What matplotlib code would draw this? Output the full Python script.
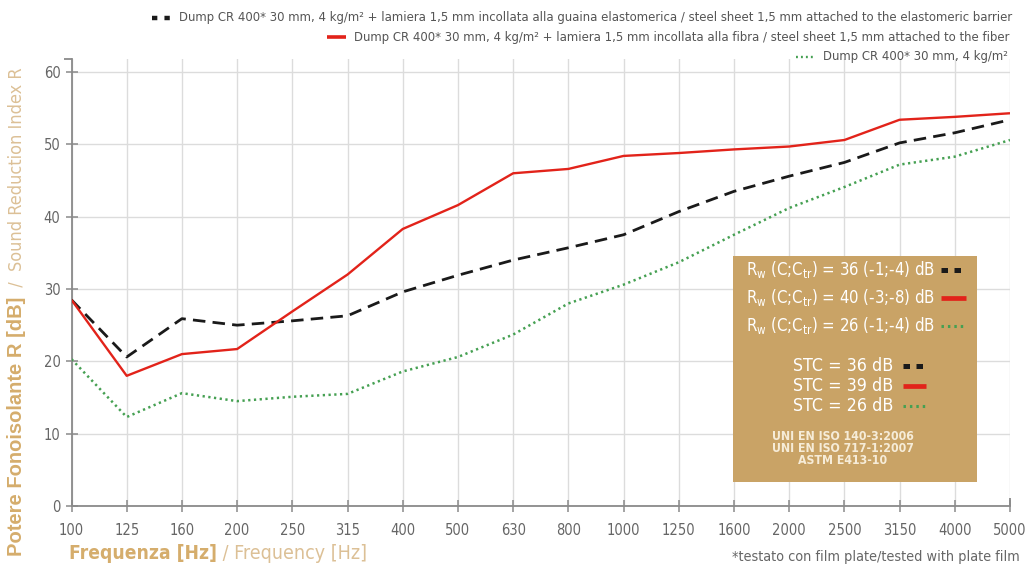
import matplotlib
matplotlib.use("Agg")
import matplotlib.pyplot as plt
from matplotlib import font_manager
from matplotlib.lines import Line2D
from matplotlib.patches import Rectangle

# ---------------- data ----------------
freqs = ["100", "125", "160", "200", "250", "315", "400", "500", "630", "800",
         "1000", "1250", "1600", "2000", "2500", "3150", "4000", "5000"]
r_barrier = [28.5, 20.6, 25.9, 25.0, 25.6, 26.3, 29.6, 31.9, 34.0, 35.7,
             37.5, 40.7, 43.5, 45.6, 47.5, 50.2, 51.6, 53.4]
r_fiber = [28.5, 18.0, 21.0, 21.7, 26.9, 32.0, 38.3, 41.6, 46.0, 46.6,
           48.4, 48.8, 49.3, 49.7, 50.6, 53.4, 53.8, 54.3]
r_base = [20.3, 12.3, 15.6, 14.5, 15.1, 15.5, 18.6, 20.6, 23.7, 28.0,
          30.6, 33.7, 37.5, 41.2, 44.1, 47.2, 48.3, 50.6]
yticks = [0, 10, 20, 30, 40, 50, 60]

legend_labels = [
    "Dump CR 400* 30 mm, 4 kg/m\u00b2 + lamiera 1,5 mm incollata alla guaina elastomerica / steel sheet 1,5 mm attached to the elastomeric barrier",
    "Dump CR 400* 30 mm, 4 kg/m\u00b2 + lamiera 1,5 mm incollata alla fibra / steel sheet 1,5 mm attached to the fiber",
    "Dump CR 400* 30 mm, 4 kg/m\u00b2",
]
rw_labels = [r"R$_\mathregular{w}$ (C;C$_\mathregular{tr}$) = 36 (-1;-4) dB",
             r"R$_\mathregular{w}$ (C;C$_\mathregular{tr}$) = 40 (-3;-8) dB",
             r"R$_\mathregular{w}$ (C;C$_\mathregular{tr}$) = 26 (-1;-4) dB"]
stc_labels = ["STC = 36 dB", "STC = 39 dB", "STC = 26 dB"]
std_labels = ["UNI EN ISO 140-3:2006", "UNI EN ISO 717-1:2007", "ASTM E413-10"]

# ---------------- fonts ----------------
names = {f.name for f in font_manager.fontManager.ttflist}
if "Liberation Sans Narrow" in names:
    NARROW = dict(family="Liberation Sans Narrow")
else:
    NARROW = dict(family="DejaVu Sans", stretch="condensed")
WIDE = dict(family="Liberation Sans") if "Liberation Sans" in names else dict(family="DejaVu Sans")

# ---------------- styles ----------------
RED = "#e2231a"
BLACK = "#1a1a1a"
GREEN = "#45a052"
TAN_B = "#d5ad6c"
TAN_R = "#dcc096"
BOX = "#c9a366"
GRID = "#dcdcdc"
AX = "#8a8a8a"
TXT = "#666666"

styles = [
    dict(color=BLACK, lw=2.0, linestyle=(0, (4.5, 2.6))),
    dict(color=RED, lw=1.7, linestyle="-"),
    dict(color=GREEN, lw=1.8, linestyle=(0, (0.9, 1.4))),
]
# legend handle styles (short samples)
hstyles = [
    dict(color=BLACK, lw=3.6, linestyle=(0, (1.3, 1.3))),
    dict(color=RED, lw=3.4, linestyle="-"),
    dict(color=GREEN, lw=2.2, linestyle=(0, (0.8, 1.3))),
]
top_hstyles = [
    dict(color=BLACK, lw=3.2, linestyle=(0, (1.2, 1.6))),
    dict(color=RED, lw=2.6, linestyle="-"),
    dict(color=GREEN, lw=1.7, linestyle=(0, (0.8, 1.3))),
]

fig = plt.figure(figsize=(10.27, 5.67), dpi=100)
ax = fig.add_axes([71.5 / 1027, 1 - 506 / 567, (1010 - 71.5) / 1027, (506 - 59) / 567])

x = list(range(len(freqs)))
for ys, st in zip([r_barrier, r_fiber, r_base], styles):
    ax.plot(x, ys, zorder=3, solid_capstyle="butt", dash_capstyle="butt", **st)

ax.set_xlim(0, len(freqs) - 1)
ax.set_ylim(0, 61.8)
ax.set_xticks(x)
ax.set_xticklabels(freqs)
ax.set_yticks(yticks)
ax.grid(True, color=GRID, lw=1.0, zorder=0)
for s in ["top", "right"]:
    ax.spines[s].set_visible(False)
for s in ["left", "bottom"]:
    ax.spines[s].set_color(AX)
    ax.spines[s].set_linewidth(1.3)
ax.tick_params(axis="both", direction="inout", length=9, width=1.1, color=AX,
               labelcolor=TXT, labelsize=10.5)
ax.tick_params(axis="x", pad=8)
for lab in ax.get_xticklabels() + ax.get_yticklabels():
    lab.set(**NARROW)
# caps at the axis ends
ax.plot([0], [1], marker=0, markersize=6, mew=1.3, color=AX, transform=ax.transAxes, clip_on=False)
ax.plot([1], [0], marker=2, markersize=6, mew=1.3, color=AX, transform=ax.transAxes, clip_on=False)

# ---------------- axis titles ----------------
ty = fig.text(17 / 1027, 1 - 556 / 567, "Potere Fonoisolante R [dB]", rotation=90,
              ha="center", va="bottom", color=TAN_B, fontsize=14.5, fontweight="bold", **WIDE)
ax.annotate("  /  Sound Reduction Index R", xy=(0.5, 1), xycoords=ty, rotation=90,
            ha="center", va="bottom", color=TAN_R, fontsize=13, **NARROW)

tx = fig.text(69 / 1027, 1 - 563 / 567, "Frequenza [Hz]", ha="left", va="bottom",
              color=TAN_B, fontsize=13.8, fontweight="bold", **NARROW)
ax.annotate(" / Frequency [Hz]", xy=(1, 0), xycoords=tx, ha="left", va="bottom",
            color=TAN_R, fontsize=14, **NARROW)

fig.text(1020 / 1027, 1 - 557 / 567, "*testato con film plate/tested with plate film",
         ha="right", va="center", color=TXT, fontsize=10.4, **NARROW)

# ---------------- top legend ----------------
leg_y = [18, 37, 57]
leg_right = [1012, 1009, 1008]
inv = fig.transFigure.inverted()
for lab, yy, xr, st in zip(legend_labels, leg_y, leg_right, top_hstyles):
    t = fig.text(xr / 1027, 1 - yy / 567, lab, ha="right", va="center",
                 color="#555555", fontsize=9.35, **NARROW)
    fig.canvas.draw()
    bb = t.get_window_extent()
    x1 = bb.x0 - 8
    x0 = x1 - 19
    ym = 567 - yy
    p0 = inv.transform((x0, ym))
    p1 = inv.transform((x1, ym))
    fig.add_artist(Line2D([p0[0], p1[0]], [p0[1], p1[1]], transform=fig.transFigure,
                          solid_capstyle="butt", dash_capstyle="butt", **st))

# ---------------- info box ----------------
bx0, bx1, by0, by1 = 733, 977, 256, 482
fig.add_artist(Rectangle((bx0 / 1027, 1 - by1 / 567), (bx1 - bx0) / 1027, (by1 - by0) / 567,
                         transform=fig.transFigure, facecolor=BOX, edgecolor="none", zorder=5))

def handle(xa, xb, yy, st):
    fig.add_artist(Line2D([xa / 1027, xb / 1027], [1 - yy / 567, 1 - yy / 567],
                          transform=fig.transFigure, zorder=6,
                          solid_capstyle="butt", dash_capstyle="butt", **st))

for lab, yy, st in zip(rw_labels, [270, 298, 326], hstyles):
    fig.text(935 / 1027, 1 - yy / 567, lab, ha="right", va="center", color="white",
             fontsize=12, zorder=6, **NARROW)
    handle(941, 966, yy, st)
for lab, yy, st in zip(stc_labels, [366, 386, 406], hstyles):
    fig.text(893 / 1027, 1 - yy / 567, lab, ha="right", va="center", color="white",
             fontsize=12.8, zorder=6, **NARROW)
    handle(903, 926, yy, st)
for lab, yy in zip(std_labels, [437, 449, 461]):
    fig.text(843 / 1027, 1 - yy / 567, lab, ha="center", va="center", color="#f6ecd8",
             fontsize=8.8, fontweight="bold", zorder=6, **NARROW)

fig.savefig("out.png", dpi=100)
